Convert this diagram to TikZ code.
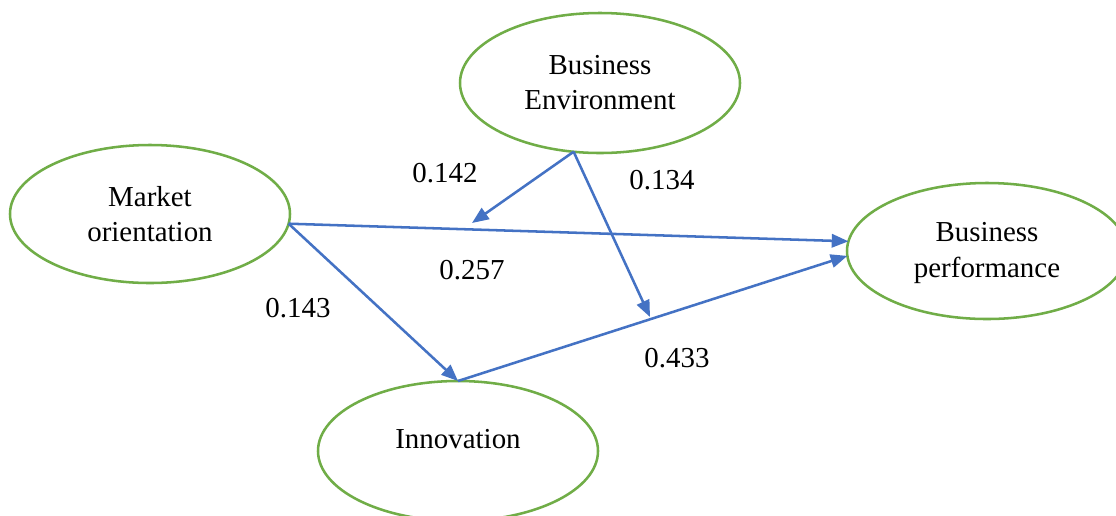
\documentclass[tikz,border=0pt]{standalone}
\usepackage{fontspec}
\setmainfont{Liberation Serif}
\usetikzlibrary{shapes.geometric,arrows.meta}
\definecolor{ellgreen}{RGB}{112,173,71}
\definecolor{arrblue}{RGB}{68,114,196}
\begin{document}
\begin{tikzpicture}[x=0.75pt,y=-0.75pt,
  ell/.style={ellipse,draw=ellgreen,line width=1.9pt,minimum width=210pt,inner sep=0pt,outer sep=0pt,align=center,
    font=\fontsize{21.7}{26.3}\selectfont},
  lbl/.style={inner sep=0pt,font=\fontsize{21.7}{26.3}\selectfont},
  arr/.style={draw=arrblue,line width=1.9pt,-{Triangle[length=12.5pt,width=10pt]}}]
\clip (0,0) rectangle (1116,515);
\fill[white] (0,0) rectangle (1116,515);
% nodes
\node[ell,minimum height=105pt] (be) at (600,83) {Business\\Environment};
\node[ell,minimum height=103.5pt] (mo) at (150,214) {Market\\orientation};
\node[ell,minimum height=102pt] (bp) at (987,251) {};
\node[lbl,align=center] (bptext) at (987,253) {Business\\performance};
\node[ell,minimum height=105pt] (inn) at (458,451) {};
\node[lbl] (inntext) at (458,439) {Innovation};
% moderator end points
\coordinate (m1) at (472,223);
\coordinate (m2) at (650,317);
% connectors
\draw[arr] (mo.-4) -- (bp.176);
\draw[arr] (mo.-4) -- (inn.north);
\draw[arr] (inn.north) -- (bp.182);
\draw[arr] (be.-111) -- (m1);
\draw[arr] (be.-111) -- (m2);
% labels
\node[lbl] (l142) at (445,173) {0.142};
\node[lbl] (l134) at (662,180) {0.134};
\node[lbl] (l257) at (472,270) {0.257};
\node[lbl] (l143) at (298,308) {0.143};
\node[lbl] (l433) at (677,358) {0.433};
\end{tikzpicture}
\end{document}
